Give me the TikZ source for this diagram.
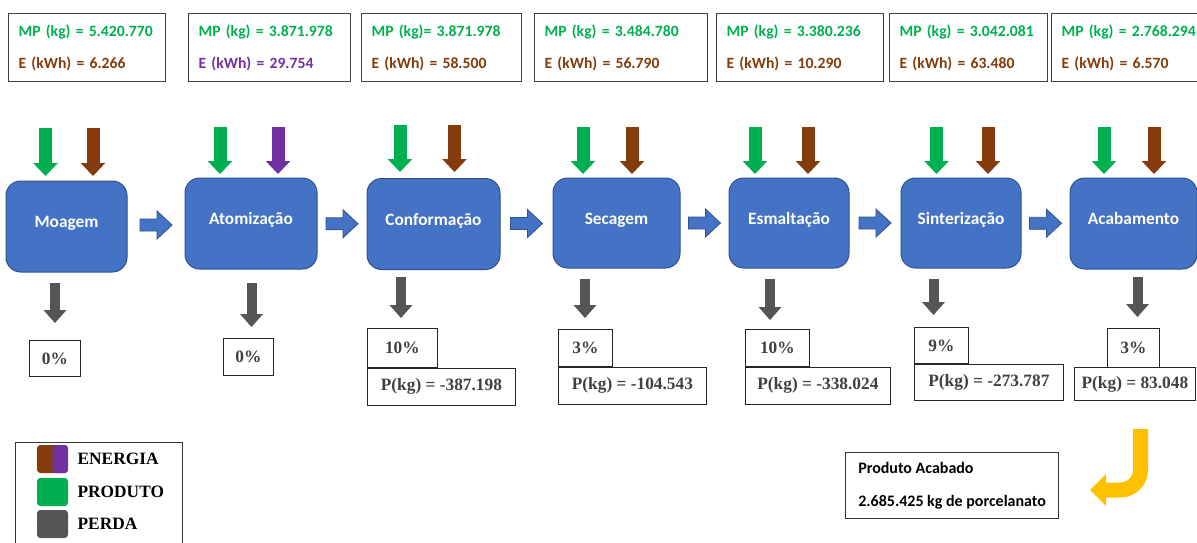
\documentclass[tikz,border=0pt]{standalone}
\usepackage{fontspec}
\usetikzlibrary{arrows.meta,positioning,calc}
\newfontfamily\calibri{Carlito}
\newfontfamily\tnr{Liberation Serif}
\definecolor{produto}{HTML}{00B050}
\definecolor{energia}{HTML}{843C0C}
\definecolor{energiab}{HTML}{7030A0}
\definecolor{perda}{HTML}{555555}
\definecolor{perdatexto}{HTML}{404040}
\definecolor{azul}{HTML}{4472C4}
\definecolor{azulborda}{HTML}{2F528F}
\definecolor{amarelo}{HTML}{FFC000}
\tikzstyle{etapa} = [draw=azulborda,line width=0.75pt,fill=azul,rounded corners=11pt,text=white,font=\calibri\bfseries\fontsize{13}{15}\selectfont,minimum height=68.25pt,text height=9pt,text depth=7pt,inner sep=0]
\tikzstyle{dados} = [draw=black!75,line width=0.9pt,align=left,inner xsep=7.5pt,inner ysep=0,minimum height=51pt,anchor=north west,font=\calibri\bfseries\fontsize{11.75}{24}\selectfont]
\tikzstyle{caixa} = [draw=black!85,line width=0.6pt,inner sep=0,text=perdatexto,font=\tnr\bfseries\fontsize{13}{15}\selectfont,anchor=north west]
\tikzstyle{entrada} = [line width=9.75pt,-{Triangle[length=9.75pt,width=18.5pt,line width=0pt]}]
\tikzstyle{saida} = [perda,line width=7.5pt,-{Triangle[length=9.75pt,width=17.25pt,line width=0pt]}]
\tikzstyle{amostra} = [rounded corners=2.5pt,minimum width=23.25pt,minimum height=21pt,inner sep=0]
\tikzstyle{legtexto} = [font=\tnr\bfseries\fontsize{13}{15}\selectfont]
\tikzset{fluxo/.pic={\filldraw[fill=azul,draw=azulborda,line width=0.6pt] (-16,-6) -- (1,-6) -- (1,-14) -- (16,0) -- (1,14) -- (1,6) -- (-16,6) -- cycle;}}

\begin{document}
\begin{tikzpicture}[x=0.75pt,y=-0.75pt]
      \useasboundingbox (0,0) rectangle (1197,543);
      % etapas do processo
      \node[etapa,minimum width=90.75pt] (moagem) at (66.5,226.5) {Moagem};
      \node[etapa,minimum width=99pt] (atomizacao) at (251,223.5) {Atomização};
      \node[etapa,minimum width=99.75pt] (conformacao) at (433.5,224) {Conformação};
      \node[etapa,minimum width=95.25pt,minimum height=67.5pt] (secagem) at (616.5,223) {Secagem};
      \node[etapa,minimum width=90pt,minimum height=67.5pt] (esmaltacao) at (789,223) {Esmaltação};
      \node[etapa,minimum width=90pt,minimum height=67.5pt] (sinterizacao) at (961,223) {Sinterização};
      \node[etapa,minimum width=95.25pt] (acabamento) at (1133.5,223.5) {Acabamento};
      \pic at ($(moagem.east)!.5!(atomizacao.west)$) {fluxo};
      \pic at ($(atomizacao.east)!.5!(conformacao.west)$) {fluxo};
      \pic at ($(conformacao.east)!.5!(secagem.west)$) {fluxo};
      \pic at ($(secagem.east)!.5!(esmaltacao.west)$) {fluxo};
      \pic at ($(esmaltacao.east)!.5!(sinterizacao.west)$) {fluxo};
      \pic at ($(sinterizacao.east)!.5!(acabamento.west)$) {fluxo};
      % entradas: materia-prima e energia
      \node[dados,text width=102.75pt] (d1) at (8,13) {\textcolor{produto}{\mbox{MP (kg) = 5.420.770}}\\\textcolor{energia}{E (kWh) = 6.266}};
      \node[dados,text width=106.5pt] (d2) at (188,13) {\textcolor{produto}{\mbox{MP (kg) = 3.871.978}}\\\textcolor{energiab}{E (kWh) = 29.754}};
      \node[dados,text width=105pt] (d3) at (361,13) {\textcolor{produto}{\mbox{MP (kg)= 3.871.978}}\\\textcolor{energia}{E (kWh) = 58.500}};
      \node[dados,text width=114.75pt] (d4) at (534,13) {\textcolor{produto}{\mbox{MP (kg) = 3.484.780}}\\\textcolor{energia}{E (kWh) = 56.790}};
      \node[dados,text width=110.25pt] (d5) at (716,13) {\textcolor{produto}{\mbox{MP (kg) = 3.380.236}}\\\textcolor{energia}{E (kWh) = 10.290}};
      \node[dados,text width=103.5pt] (d6) at (889,13) {\textcolor{produto}{\mbox{MP (kg) = 3.042.081}}\\\textcolor{energia}{E (kWh) = 63.480}};
      \node[dados,text width=105pt] (d7) at (1051,13) {\textcolor{produto}{\mbox{MP (kg) = 2.768.294}}\\\textcolor{energia}{E (kWh) = 6.570}};
      \draw[entrada,produto] (45.5,128) -- (45.5,176);
      \draw[entrada,energia] (93,128) -- (93,176);
      \draw[entrada,produto] (220,127) -- (220,174);
      \draw[entrada,energiab] (278,127) -- (278,174);
      \draw[entrada,produto] (400,125) -- (400,172);
      \draw[entrada,energia] (454.5,125) -- (454.5,172);
      \draw[entrada,produto] (583,127) -- (583,174);
      \draw[entrada,energia] (632,127) -- (632,174);
      \draw[entrada,produto] (755,127) -- (755,174);
      \draw[entrada,energia] (808,127) -- (808,174);
      \draw[entrada,produto] (936.5,127) -- (936.5,174);
      \draw[entrada,energia] (988,127) -- (988,174);
      \draw[entrada,produto] (1104,127) -- (1104,174);
      \draw[entrada,energia] (1154,127) -- (1154,174);
      % perdas
      \draw[saida] (55,283) -- (55,323);
      \draw[saida] (251.5,283) -- (251.5,327);
      \draw[saida] (401,277) -- (401,318);
      \draw[saida] (585,279) -- (585,318);
      \draw[saida] (770,279) -- (770,320);
      \draw[saida] (933.5,279) -- (933.5,315);
      \draw[saida] (1137.5,277) -- (1137.5,317);
      \node[caixa,minimum width=38.25pt,minimum height=27pt] (p1) at (29,340) {0\%};
      \node[caixa,minimum width=37.5pt,minimum height=27.75pt] (p2) at (223,338) {0\%};
      \node[caixa,minimum width=52.5pt,minimum height=29.25pt] (p3) at (367,328) {10\%};
      \node[caixa,minimum width=111pt,minimum height=27.75pt] (k3) at (p3.south west) {P(kg) = -387.198};
      \node[caixa,minimum width=40.5pt,minimum height=27.75pt] (p4) at (558,329) {3\%};
      \node[caixa,minimum width=111pt,minimum height=27.75pt] (k4) at (p4.south west) {P(kg) = -104.543};
      \node[caixa,minimum width=48pt,minimum height=27.75pt] (p5) at (745,329) {10\%};
      \node[caixa,minimum width=108.75pt,minimum height=27.75pt] (k5) at (p5.south west) {P(kg) = -338.024};
      \node[caixa,minimum width=40.5pt,minimum height=27pt] (p6) at (914,327) {9\%};
      \node[caixa,minimum width=111.75pt,minimum height=27pt] (k6) at (p6.south west) {P(kg) = -273.787};
      \node[caixa,minimum width=39pt,minimum height=29.25pt] (p7) at (1107,328) {3\%};
      \node[caixa,minimum width=90.75pt,minimum height=24.75pt] (k7) at (1074,367) {P(kg) = 83.048};
      % legenda
      \node[draw=black!80,line width=0.9pt,anchor=north west,minimum width=125.25pt,minimum height=82.5pt] (legenda) at (15,442) {};
      \node[amostra,fill=energia,path picture={\fill[energiab] (path picture bounding box.north) rectangle (path picture bounding box.south east);}] (amE) at (52.5,459) {};
      \node[amostra,fill=produto] (amP) at (52.5,492) {};
      \node[amostra,fill=perda] (amD) at (52.5,524) {};
      \node[legtexto,right=3.5pt of amE] (txE) {ENERGIA};
      \node[legtexto,right=3.5pt of amP] (txP) {PRODUTO};
      \node[legtexto,right=3.5pt of amD] (txD) {PERDA};
      % produto final
      \node[draw=black!80,line width=0.9pt,anchor=north west,minimum width=159.75pt,minimum height=49.5pt,align=left,font=\calibri\bfseries\fontsize{12}{24.75}\selectfont] (acabado) at (845,452) {Produto Acabado\\2.685.425 kg de porcelanato};
      \coordinate (amarelo ini) at (1140.5,429);
      \coordinate (amarelo fim) at (1090,490);
      \draw[amarelo,line width=11.25pt,rounded corners=15pt,-{Triangle[length=12pt,width=24pt,line width=0pt]}] (amarelo ini) |- (amarelo fim);
\end{tikzpicture}
\end{document}
